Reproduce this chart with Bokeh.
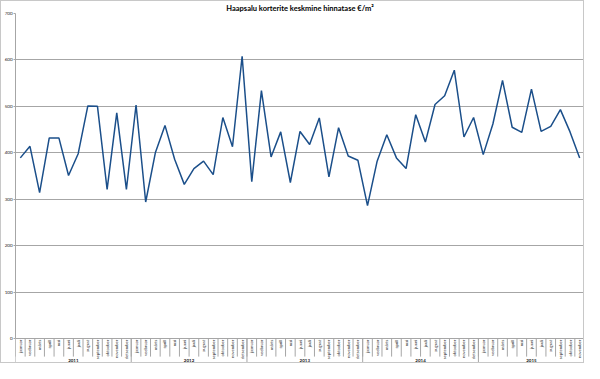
import math
from bokeh.plotting import figure
from bokeh.models import Range1d, FixedTicker, ColumnDataSource
from bokeh.core.properties import value
from bokeh.embed import file_html
from bokeh.resources import INLINE

title_text = "Haapsalu korterite keskmine hinnatase €/m²"
month_names = ["jaanuar", "veebruar", "märts", "aprill", "mai", "juuni",
               "juuli", "august", "september", "oktoober", "november", "detsember"]
years = ["2011", "2012", "2013", "2014", "2015"]
months_per_year = [12, 12, 12, 12, 11]
prices = [389, 414, 314, 432, 432, 351, 398, 501, 500, 321, 486, 321,
          503, 294, 400, 459, 386, 332, 366, 382, 353, 476, 413, 608,
          338, 534, 391, 445, 336, 446, 418, 475, 348, 454, 393, 384,
          286, 382, 439, 389, 366, 482, 423, 504, 523, 578, 434, 476,
          396, 462, 556, 455, 444, 537, 446, 457, 493, 445, 389]
y_ticks = [0, 100, 200, 300, 400, 500, 600, 700]

n = len(prices)
xs = list(range(n))
labels = []
for y, cnt in zip(years, months_per_year):
    labels.extend(month_names[:cnt])

FONT = "Lato"
GRID = "#a6a6a6"

p = figure(width=584, height=363, output_backend="svg", toolbar_location=None,
           x_range=Range1d(-0.5, n - 0.5), y_range=Range1d(-56, 700),
           x_axis_location=None, min_border_left=14, min_border_right=1,
           min_border_bottom=0, min_border_top=11)
p.title.text = title_text
p.title.align = "center"
p.title.text_font = FONT
p.title.text_font_size = "7.5px"
p.title.text_font_style = "bold"
p.title.text_color = "#000000"
p.title.standoff = 1
p.outline_line_color = None
p.background_fill_color = "white"
p.border_fill_color = "white"
p.styles = {"border": "1px solid #c8c8c8"}

yax = p.yaxis[0]
yax.ticker = FixedTicker(ticks=y_ticks)
yax.bounds = (0, 700)
yax.axis_line_color = GRID
yax.major_tick_line_color = GRID
yax.major_tick_out = 2
yax.major_tick_in = 0
yax.minor_tick_line_color = None
yax.major_label_text_font = FONT
yax.major_label_text_font_size = "4.5px"
yax.major_label_text_color = "#222222"
yax.major_label_standoff = 1

p.xgrid.visible = False
p.ygrid.ticker = FixedTicker(ticks=y_ticks)
p.ygrid.grid_line_color = GRID
p.ygrid.grid_line_width = 1

# month boundary ticks
bx = [i - 0.5 for i in range(n + 1)]
p.segment(x0=bx, y0=[0] * len(bx), x1=bx, y1=[-39] * len(bx),
          line_color=GRID, line_width=1)

# year separators
sep = [-0.5]
acc = -0.5
for cnt in months_per_year:
    acc += cnt
    sep.append(acc)
p.segment(x0=sep, y0=[0] * len(sep), x1=sep, y1=[-56] * len(sep),
          line_color=GRID, line_width=1)

# month labels
p.text(x=xs, y=[-2.5] * n, text=labels, angle=math.pi / 2,
       text_align="right", text_baseline="middle",
       text_font=value(FONT), text_font_size="4.2px", text_color="#222222")

# year labels
yc = []
start = 0
for cnt in months_per_year:
    yc.append(start + (cnt - 1) / 2)
    start += cnt
p.text(x=yc, y=[-47] * len(years), text=years, text_align="center",
       text_baseline="middle", text_font=value(FONT), text_font_size="4.5px",
       text_font_style="bold", text_color="#222222")

src = ColumnDataSource(dict(x=xs, y=prices))
p.line("x", "y", source=src, line_color="#1B4F8A", line_width=1.5)

open("out.html", "w").write(file_html(p, INLINE))
